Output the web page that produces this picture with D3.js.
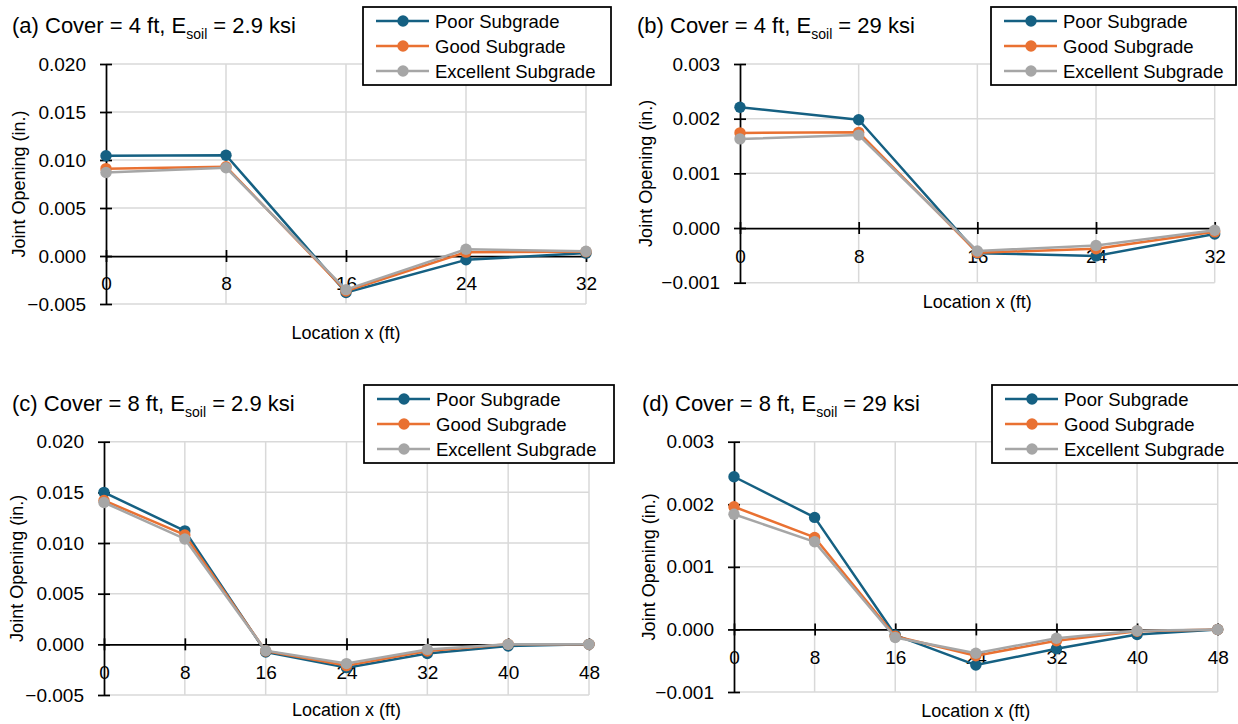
<!DOCTYPE html>
<html>
<head>
<meta charset="utf-8">
<script src="https://cdn.jsdelivr.net/npm/d3@7/dist/d3.min.js"></script>
<style>
  html, body { margin: 0; padding: 0; background: #ffffff; }
  svg { display: block; font-family: "Liberation Sans", Arial, sans-serif; }
</style>
</head>
<body>
<svg id="chart" width="1238" height="724"></svg>
<script>
// Joint opening along the culvert for two cover depths and two soil moduli

const seriesNames = ["Poor Subgrade", "Good Subgrade", "Excellent Subgrade"];
const seriesColors = ["#156082", "#E97132", "#A6A6A6"];

// Joint locations (ft)
const locations4ft = [0, 8, 16, 24, 32];
const locations8ft = [0, 8, 16, 24, 32, 40, 48];

// Tick values
const xTicks4ft = [0, 8, 16, 24, 32];
const xTicks8ft = [0, 8, 16, 24, 32, 40, 48];
const yTicksSoft = [-0.005, 0.000, 0.005, 0.010, 0.015, 0.020];
const yTicksStiff = [-0.001, 0.000, 0.001, 0.002, 0.003];

// (a) Cover = 4 ft, E_soil = 2.9 ksi
const poorA = [0.01045, 0.0105, -0.0038, -0.0004, 0.0003];
const goodA = [0.0091, 0.0093, -0.00365, 0.0004, 0.00045];
const excellentA = [0.0087, 0.0092, -0.0035, 0.0007, 0.0005];

// (b) Cover = 4 ft, E_soil = 29 ksi
const poorB = [0.00221, 0.00198, -0.00046, -0.00051, -0.00011];
const goodB = [0.00174, 0.00175, -0.00045, -0.00038, -0.00007];
const excellentB = [0.00163, 0.00170, -0.00042, -0.00032, -0.00004];

// (c) Cover = 8 ft, E_soil = 2.9 ksi
const poorC = [0.0150, 0.0112, -0.00075, -0.0023, -0.0009, -0.00016, 0.0000];
const goodC = [0.0142, 0.0108, -0.00066, -0.0021, -0.00066, 0.0000, 0.0000];
const excellentC = [0.0140, 0.0104, -0.00062, -0.0019, -0.0005, 0.0000, 0.0000];

// (d) Cover = 8 ft, E_soil = 29 ksi
const poorD = [0.00244, 0.00179, -0.00009, -0.00057, -0.00031, -0.00008, 0.0000];
const goodD = [0.00196, 0.00147, -0.00011, -0.00042, -0.00018, -0.00003, 0.0000];
const excellentD = [0.00184, 0.00140, -0.00013, -0.00038, -0.00014, -0.00002, 0.0000];

const panels = [
  { label: "(a) Cover = 4 ft, E", sub: "soil", tail: " = 2.9 ksi",
    x: locations4ft, xTicks: xTicks4ft, yTicks: yTicksSoft, series: [poorA, goodA, excellentA],
    box: { left: 106, right: 586, top: 64, bottom: 304 },
    title: { x: 12, y: 33 }, yTitleX: 25, xTitleY: 339,
    legend: { x: 363, y: 7, w: 248 } },
  { label: "(b) Cover = 4 ft, E", sub: "soil", tail: " = 29 ksi",
    x: locations4ft, xTicks: xTicks4ft, yTicks: yTicksStiff, series: [poorB, goodB, excellentB],
    box: { left: 740, right: 1214.7, top: 64, bottom: 282.7 },
    title: { x: 637, y: 33 }, yTitleX: 652, xTitleY: 308,
    legend: { x: 991, y: 7, w: 245 } },
  { label: "(c) Cover = 8 ft, E", sub: "soil", tail: " = 2.9 ksi",
    x: locations8ft, xTicks: xTicks8ft, yTicks: yTicksSoft, series: [poorC, goodC, excellentC],
    box: { left: 104, right: 589, top: 441.7, bottom: 695 },
    title: { x: 12, y: 411 }, yTitleX: 23, xTitleY: 716,
    legend: { x: 364, y: 385, w: 250 } },
  { label: "(d) Cover = 8 ft, E", sub: "soil", tail: " = 29 ksi",
    x: locations8ft, xTicks: xTicks8ft, yTicks: yTicksStiff, series: [poorD, goodD, excellentD],
    box: { left: 734, right: 1217.7, top: 441.7, bottom: 692 },
    title: { x: 642, y: 411 }, yTitleX: 655, xTitleY: 717,
    legend: { x: 992, y: 385, w: 250 } }
];

const svg = d3.select("#chart");
svg.append("rect").attr("width", 1238).attr("height", 724).attr("fill", "#ffffff");

const gridColor = "#d9d9d9";
const tickFont = 19;
const markerR = 5.7;
const lineW = 2.5;

panels.forEach(p => {
  const b = p.box;
  const xScale = d3.scaleLinear()
    .domain([d3.min(p.xTicks), d3.max(p.xTicks)])
    .range([b.left, b.right]);
  const yScale = d3.scaleLinear()
    .domain([d3.min(p.yTicks), d3.max(p.yTicks)])
    .range([b.bottom, b.top]);

  const g = svg.append("g");

  // gridlines
  g.append("g").selectAll("line")
    .data(p.yTicks.filter(v => v !== 0))
    .join("line")
    .attr("x1", b.left).attr("x2", b.right)
    .attr("y1", d => yScale(d)).attr("y2", d => yScale(d))
    .attr("stroke", gridColor).attr("stroke-width", 1.5);
  g.append("g").selectAll("line")
    .data(p.xTicks.filter(v => v !== 0))
    .join("line")
    .attr("x1", d => xScale(d)).attr("x2", d => xScale(d))
    .attr("y1", b.top).attr("y2", b.bottom)
    .attr("stroke", gridColor).attr("stroke-width", 1.5);

  // horizontal axis through zero, with crossing tick marks
  const y0 = yScale(0);
  const xAxisG = g.append("g")
    .attr("transform", `translate(0,${y0})`)
    .call(d3.axisBottom(xScale).tickValues(p.xTicks).tickSize(6).tickSizeOuter(0).tickPadding(15)
      .tickFormat(d3.format("d")));
  g.append("g")
    .attr("transform", `translate(0,${y0})`)
    .call(d3.axisTop(xScale).tickValues(p.xTicks).tickSize(6).tickSizeOuter(0).tickFormat(""))
    .call(s => s.select(".domain").remove());

  // vertical axis, with crossing tick marks
  const yAxisG = g.append("g")
    .attr("transform", `translate(${b.left},0)`)
    .call(d3.axisLeft(yScale).tickValues(p.yTicks).tickSize(6).tickSizeOuter(0).tickPadding(14)
      .tickFormat(d3.format(".3f")));
  g.append("g")
    .attr("transform", `translate(${b.left},0)`)
    .call(d3.axisRight(yScale).tickValues(p.yTicks).tickSize(6).tickSizeOuter(0).tickFormat(""))
    .call(s => s.select(".domain").remove());

  [xAxisG, yAxisG].forEach(ax => {
    ax.selectAll(".domain").attr("stroke", "#000").attr("stroke-width", 1.75);
    ax.selectAll(".tick text")
      .attr("fill", "#000")
      .style("font-family", "Liberation Sans, Arial, sans-serif")
      .style("font-size", tickFont + "px");
  });
  g.selectAll(".tick line").attr("stroke", "#000").attr("stroke-width", 1.75);

  // series: line then markers, drawn in legend order so later series sit on top
  const lineGen = d3.line()
    .x((d, i) => xScale(p.x[i]))
    .y(d => yScale(d));
  p.series.forEach((vals, si) => {
    const sg = g.append("g");
    sg.append("path")
      .datum(vals)
      .attr("d", lineGen)
      .attr("fill", "none")
      .attr("stroke", seriesColors[si])
      .attr("stroke-width", lineW)
      .attr("stroke-linejoin", "round");
    sg.selectAll("circle")
      .data(vals)
      .join("circle")
      .attr("cx", (d, i) => xScale(p.x[i]))
      .attr("cy", d => yScale(d))
      .attr("r", markerR)
      .attr("fill", seriesColors[si]);
  });

  // panel title with subscript
  const t = g.append("text")
    .attr("x", p.title.x).attr("y", p.title.y)
    .attr("fill", "#000")
    .style("font-size", "22px");
  t.append("tspan").text(p.label);
  t.append("tspan").attr("dy", 6).style("font-size", "14px").text(p.sub);
  t.append("tspan").attr("dy", -6).text(p.tail);

  // axis titles
  g.append("text")
    .attr("transform", `translate(${p.yTitleX},${(b.top + b.bottom) / 2}) rotate(-90)`)
    .attr("text-anchor", "middle")
    .attr("fill", "#000")
    .style("font-size", "18px")
    .text("Joint Opening (in.)");
  g.append("text")
    .attr("x", (b.left + b.right) / 2).attr("y", p.xTitleY)
    .attr("text-anchor", "middle")
    .attr("fill", "#000")
    .style("font-size", "18px")
    .text("Location x (ft)");

  // legend
  const L = p.legend;
  const lg = g.append("g").attr("transform", `translate(${L.x},${L.y})`);
  lg.append("rect")
    .attr("width", L.w).attr("height", 78)
    .attr("fill", "#ffffff").attr("stroke", "#000").attr("stroke-width", 1.75);
  seriesNames.forEach((name, si) => {
    const ry = 14 + si * 25;
    lg.append("line")
      .attr("x1", 13).attr("x2", 66).attr("y1", ry).attr("y2", ry)
      .attr("stroke", seriesColors[si]).attr("stroke-width", lineW);
    lg.append("circle")
      .attr("cx", 40).attr("cy", ry).attr("r", markerR)
      .attr("fill", seriesColors[si]);
    lg.append("text")
      .attr("x", 72).attr("y", ry).attr("dy", "0.36em")
      .attr("fill", "#000")
      .style("font-size", "18.5px")
      .text(name);
  });
});
</script>
</body>
</html>
